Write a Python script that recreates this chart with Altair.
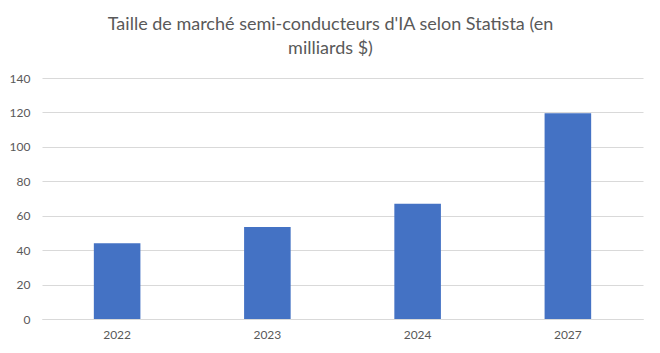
import altair as alt
import pandas as pd

years = ["2022", "2023", "2024", "2027"]
values = [44, 53.5, 67, 119.5]

df = pd.DataFrame({"year": years, "value": values})

chart = alt.Chart(df).mark_bar(color="#4472C4").encode(
    x=alt.X("year:N", sort=None,
            scale=alt.Scale(paddingInner=0.69, paddingOuter=0.345),
            axis=alt.Axis(title=None, labelAngle=0, ticks=False, domain=True,
                          domainColor="#d9d9d9", labelColor="#595959",
                          labelFontSize=12, labelFont="Lato", labelPadding=10)),
    y=alt.Y("value:Q", scale=alt.Scale(domain=[0, 140]),
            axis=alt.Axis(title=None, values=[0, 20, 40, 60, 80, 100, 120, 140],
                          ticks=False, domain=False, gridColor="#d9d9d9",
                          labelColor="#595959", labelFontSize=12, labelFont="Lato",
                          labelPadding=12)),
).properties(
    width=601, height=241,
    title=alt.TitleParams(
        text=["Taille de marché semi-conducteurs  d'IA selon Statista (en", "milliards $)"],
        font="Lato", fontSize=18, fontWeight="normal", color="#595959",
        anchor="middle", lineHeight=24, dx=-12, offset=14),
    autosize=alt.AutoSizeParams(type="none"),
    padding={"left": 42, "top": 78, "right": 17, "bottom": 34},
).configure_view(stroke=None)

chart.save("out.html", embed_options={"renderer": "svg", "actions": False})
